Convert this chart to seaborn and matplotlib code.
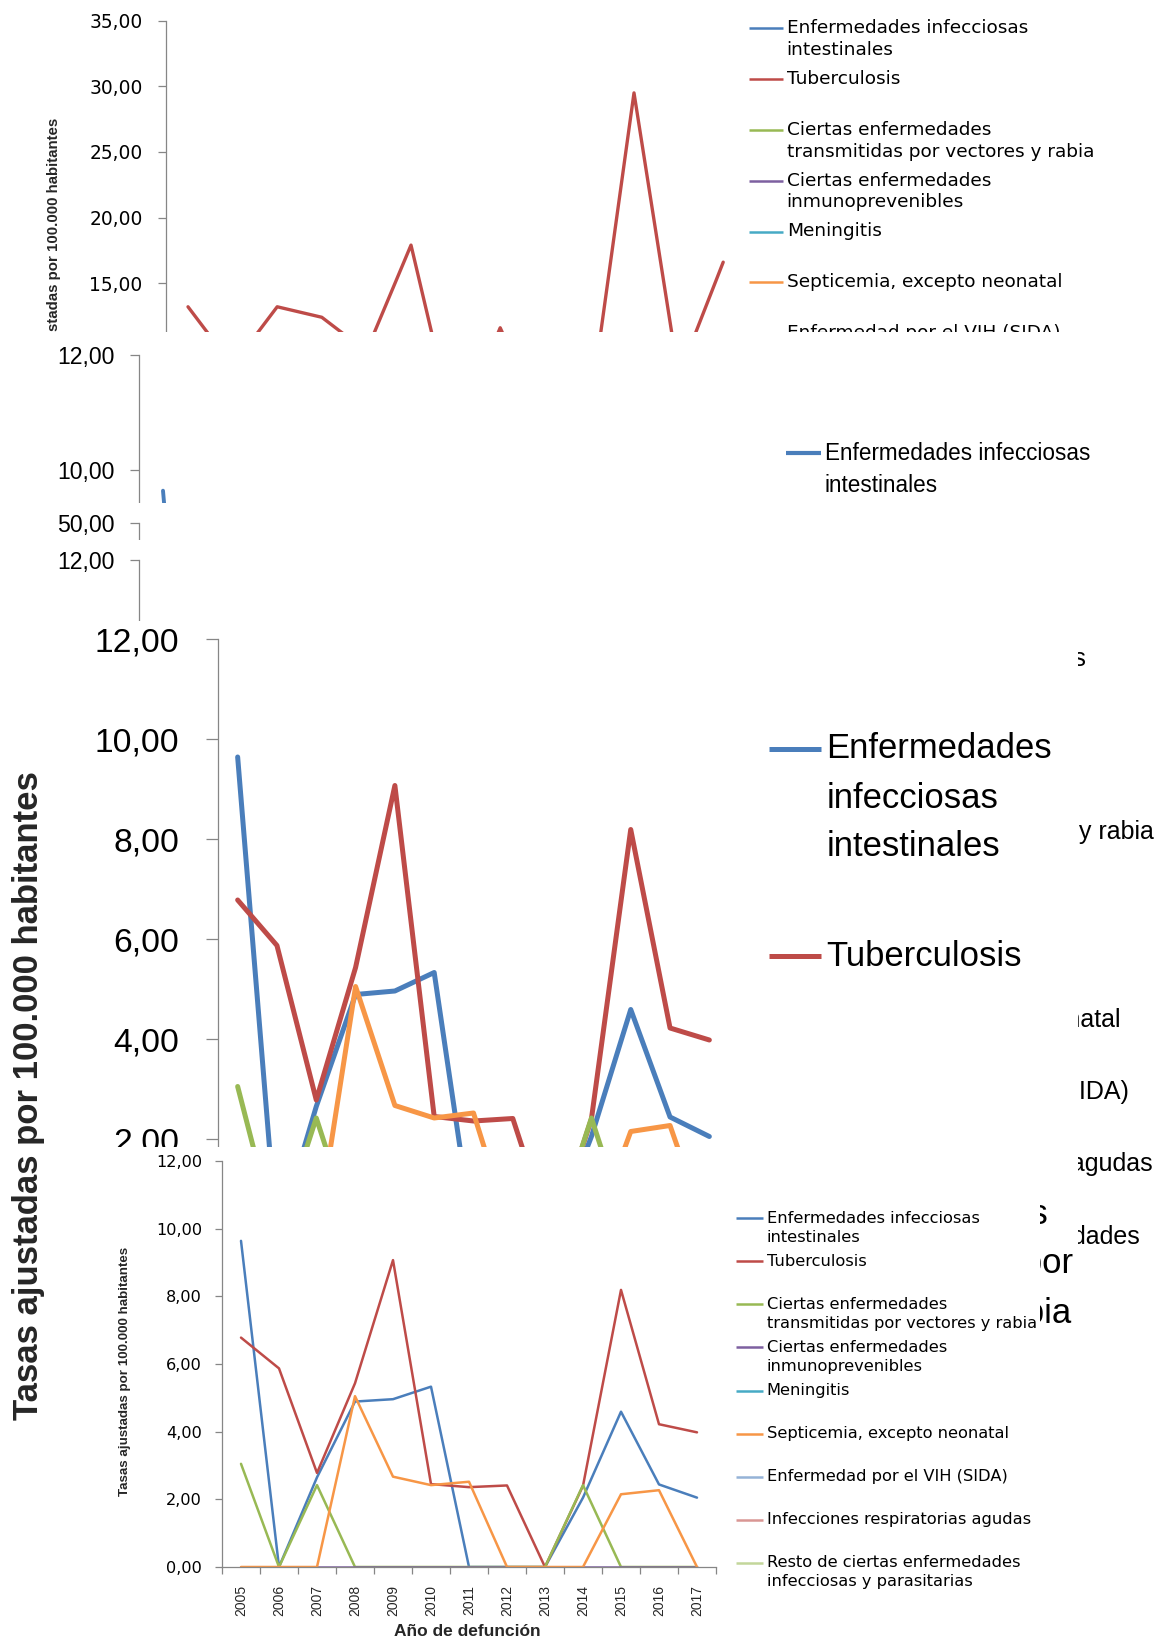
import matplotlib
matplotlib.use("Agg")
import matplotlib.pyplot as plt
import seaborn as sns
import pandas as pd
from matplotlib.lines import Line2D
from matplotlib.patches import Rectangle
from matplotlib import font_manager

# ---------------- data ----------------
years = [2005, 2006, 2007, 2008, 2009, 2010, 2011, 2012, 2013, 2014, 2015, 2016, 2017]

series_names = [
    "Enfermedades infecciosas intestinales",
    "Tuberculosis",
    "Ciertas enfermedades transmitidas por vectores y rabia",
    "Ciertas enfermedades inmunoprevenibles",
    "Meningitis",
    "Septicemia, excepto neonatal",
    "Enfermedad por el VIH (SIDA)",
    "Infecciones respiratorias agudas",
    "Resto de ciertas enfermedades infecciosas y parasitarias",
]
series_colors = ["#4A7EBB", "#BE4B48", "#98B954", "#7D60A0", "#46AAC5",
                 "#F79646", "#95B3D7", "#D99694", "#C3D69B"]

intestinales = [9.64, 0.00, 2.65, 4.89, 4.96, 5.33, 0.00, 0.00, 0.00, 2.05, 4.59, 2.44, 2.05]
tuberculosis = [6.78, 5.87, 2.78, 5.43, 9.07, 2.45, 2.36, 2.41, 0.00, 2.40, 8.19, 4.22, 3.98]
vectores = [3.05, 0.00, 2.42, 0.00, 0.00, 0.00, 0.00, 0.00, 0.00, 2.42, 0.00, 0.00, 0.00]
inmunoprevenibles = [0.00, 0.00, 0.00, 0.00, 0.00, 0.00, 0.00, 0.00, 0.00, 0.00, 0.00, 0.00, 0.00]
meningitis = [None, None, None, None, None, None, None, None, None, None, None, None, None]
septicemia = [0.00, 0.00, 0.00, 5.05, 2.67, 2.42, 2.52, 0.00, 0.00, 0.00, 2.15, 2.27, 0.00]
vih = [None, None, None, None, None, None, None, None, None, None, None, None, None]
respiratorias = [None, None, None, None, None, None, None, None, None, None, None, None, None]
resto = [None, None, None, None, None, None, None, None, None, None, None, None, None]

# series of the upper (partially hidden) chart
tuberculosis_top = [13.2, 8.7, 13.2, 12.4, 9.8, 17.9, 3.5, 11.6, 4.0, 5.0, 29.5, 7.9, 16.6]

# legend line breaks
labels_small = [
    ["Enfermedades infecciosas", "intestinales"],
    ["Tuberculosis"],
    ["Ciertas enfermedades", "transmitidas por vectores y rabia"],
    ["Ciertas enfermedades", "inmunoprevenibles"],
    ["Meningitis"],
    ["Septicemia, excepto neonatal"],
    ["Enfermedad por el VIH (SIDA)"],
    ["Infecciones respiratorias agudas"],
    ["Resto de ciertas enfermedades", "infecciosas y parasitarias"],
]
labels_big = [
    ["Enfermedades", "infecciosas", "intestinales"],
    ["Tuberculosis"],
    ["Ciertas", "enfermedades", "transmitidas por", "vectores y rabia"],
]

all_values = [intestinales, tuberculosis, vectores, inmunoprevenibles, meningitis,
              septicemia, vih, respiratorias, resto]

rows = []
for name, vals in zip(series_names, all_values):
    for yr, v in zip(years, vals):
        if v is not None:
            rows.append({"Año": yr, "Tasa": v, "Serie": name})
df = pd.DataFrame(rows)
df_top = pd.DataFrame({"Año": years, "Tasa": tuberculosis_top, "Serie": series_names[1]})
palette = dict(zip(series_names, series_colors))

# ---------------- style ----------------
sns.set_theme(style="white")
plt.rcParams["font.family"] = ["DejaVu Sans"]
_avail = {f.name for f in font_manager.fontManager.ttflist}
if "Liberation Sans Narrow" in _avail:
    NARROW, NS = ["Liberation Sans Narrow", "Liberation Sans"], 1.0
elif "Arial Narrow" in _avail:
    NARROW, NS = ["Arial Narrow", "Liberation Sans"], 1.0
else:
    NARROW, NS = ["Liberation Sans", "DejaVu Sans"], 0.82
ARIAL = ["Liberation Sans", "DejaVu Sans"]
AXC = "#868686"

W, H = 1154, 1641
fig = plt.figure(figsize=(W / 100, H / 100), dpi=100)
fig.patch.set_facecolor("white")


def add_ax(left, right, top, bottom, z):
    ax = fig.add_axes([left / W, 1 - bottom / H, (right - left) / W, (bottom - top) / H])
    ax.set_zorder(z)
    ax.set_facecolor("none")
    return ax


def cover(x0, y0, x1, y1, z):
    fig.add_artist(Rectangle((x0 / W, 1 - y1 / H), (x1 - x0) / W, (y1 - y0) / H,
                             transform=fig.transFigure, facecolor="white",
                             edgecolor="none", zorder=z))


def ftext(x, y, s, z, **kw):
    fig.text(x / W, 1 - y / H, s, zorder=z, **kw)


def fline(x0, x1, y, color, lw, z):
    fig.add_artist(Line2D([x0 / W, x1 / W], [1 - y / H, 1 - y / H], color=color, lw=lw,
                          zorder=z, transform=fig.transFigure, solid_capstyle="butt"))


def fmt(v):
    return f"{v:.2f}".replace(".", ",")


def draw_lines(ax, frame, lw):
    present = [n for n in series_names if n in set(frame["Serie"])]
    sns.lineplot(data=frame, x="Año", y="Tasa", hue="Serie", hue_order=present,
                 palette=palette, estimator=None, sort=False, legend=False,
                 linewidth=lw, ax=ax)


def style_ax(ax, ymax, step, fs, family, ticklen, pad):
    ax.set_xlim(years[0] - 0.5, years[-1] + 0.5)
    ax.set_ylim(0, ymax)
    ticks = [i * step for i in range(int(round(ymax / step)) + 1)]
    ax.set_yticks(ticks)
    ax.set_yticklabels([fmt(t) for t in ticks], fontsize=fs, fontfamily=family)
    ax.set_xticks([])
    for s in ["top", "right"]:
        ax.spines[s].set_visible(False)
    for s in ["left", "bottom"]:
        ax.spines[s].set_color(AXC)
        ax.spines[s].set_linewidth(0.9)
    ax.tick_params(axis="y", left=True, length=ticklen, width=0.9, color=AXC,
                   pad=pad, direction="out", labelcolor="black")
    ax.set_xlabel("")
    ax.set_ylabel("")


def legend(entries, marker_x0, marker_x1, text_x, y0, slot, linestep, fs, family,
           lw, z):
    for i in range(len(entries)):
        y = y0 + slot[i] if isinstance(slot, list) else y0 + slot * i
        fline(marker_x0, marker_x1, y, series_colors[i], lw, z)
        for j, line in enumerate(entries[i]):
            ftext(text_x, y + j * linestep, line, z, fontsize=fs, fontfamily=family,
                  ha="left", va="center", color="black")


# ---------------- layer 1 (top, 0-35) ----------------
ax1 = add_ax(165.7, 745.5, 20.7, 480, 11)
draw_lines(ax1, df_top, 2.4)
style_ax(ax1, 35, 5, 13.4, ["DejaVu Sans"], 5.8, 10.8)
ftext(54.5, 258, "Tasas ajustadas por 100.000 habitantes", 12, rotation=90,
      fontsize=13.2 * NS, fontfamily=NARROW, fontweight="bold", ha="center", va="center")
legend(labels_small, 749, 783, 786.7, 28.3, 50.8, 21.7, 13.3, ["DejaVu Sans"], 1.8, 12)

# ---------------- layer 2 (0-12) ----------------
cover(0, 331.7, W, H, 20)
ax2 = add_ax(139, 763, 355, 1045, 21)
draw_lines(ax2, df, 2.8)
style_ax(ax2, 12, 2, 20.2 * NS, NARROW, 6.5, 10.8)
legend(labels_small, 786, 821, 825, 453, 71.5, 32, 19.8 * NS, NARROW, 3.0, 22)

# ---------------- layer 2b (50,00) ----------------
cover(0, 503, W, H, 30)
ax3 = add_ax(139, 763, 523, 1043, 31)
draw_lines(ax3, df, 2.8)
style_ax(ax3, 50, 10, 20.2 * NS, NARROW, 6.5, 10.8)

# ---------------- layer 2c (12,00) ----------------
cover(0, 540, W, H, 40)
ax4 = add_ax(139, 763, 560, 1250, 41)
draw_lines(ax4, df, 2.8)
style_ax(ax4, 12, 2, 20.2 * NS, NARROW, 6.5, 10.8)

# ---------------- layer X (legend behind, right side) ----------------
cover(0, 621, W, H, 50)
legend(labels_small, 740, 786, 793, 659, 72.2, 29, 18, ARIAL, 3.0, 52)

# ---------------- middle big layer ----------------
cover(0, 621, 1078, H, 60)
ax5 = add_ax(218, 729, 639, 1239, 61)
draw_lines(ax5, df, 3.6)
style_ax(ax5, 12, 2, 29.5 * NS, NARROW, 8.6, 19.5)
ftext(29, 1096, "Tasas ajustadas por 100.000 habitantes", 62, rotation=90,
      fontsize=25, fontfamily=ARIAL, fontweight="bold", ha="center", va="center")
legend(labels_big, 769, 821, 826.5, 749, [0, 207, 417], 49, 30.4 * NS, NARROW, 3.6, 62)

# ---------------- bottom layer (complete chart) ----------------
cover(55, 1147, 1040, H, 70)
ax6 = add_ax(222, 716, 1161, 1567, 71)
draw_lines(ax6, df, 1.8)
style_ax(ax6, 12, 2, 11.6, ["DejaVu Sans"], 5.0, 9.4)
ax6.set_xticks(years)
ax6.set_xticklabels([str(y) for y in years], rotation=90, fontsize=12.2 * NS,
                    fontfamily=NARROW)
ax6.set_xticks([y - 0.5 for y in years] + [years[-1] + 0.5], minor=True)
ax6.tick_params(axis="x", which="major", bottom=True, length=0, pad=13)
ax6.tick_params(axis="x", which="minor", bottom=True, length=5, width=0.9, color=AXC,
                direction="out")
ftext(467.5, 1632, "Año de defunción", 72, fontsize=12.5, fontfamily=ARIAL,
      fontweight="bold", ha="center", va="center")
ftext(125, 1371, "Tasas ajustadas por 100.000 habitantes", 72, rotation=90,
      fontsize=11.8 * NS, fontfamily=NARROW, fontweight="bold", ha="center", va="center")
legend(labels_small, 736, 763, 766.7, 1218.3, 43.05, 19.3, 11.7, ["DejaVu Sans"], 1.8, 72)

fig.savefig("out.png", dpi=100, facecolor="white")
